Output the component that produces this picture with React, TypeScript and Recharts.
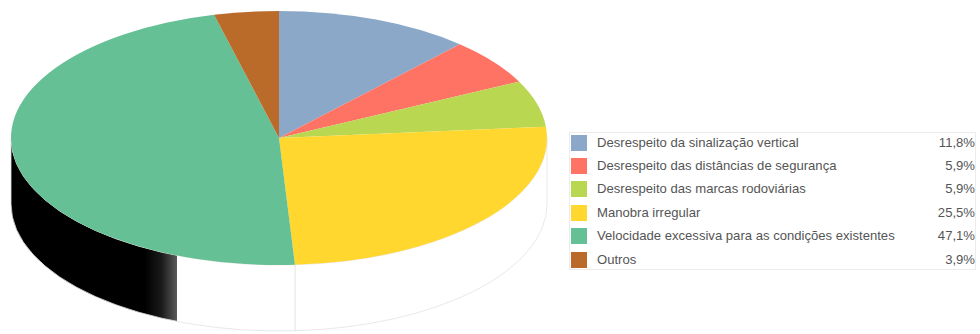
import React from "react";
import { PieChart, Pie } from "recharts";

const CAUSES = [
  "Desrespeito da sinalização vertical",
  "Desrespeito das distâncias de segurança",
  "Desrespeito das marcas rodoviárias",
  "Manobra irregular",
  "Velocidade excessiva para as condições existentes",
  "Outros",
];
const SHARES = [11.8, 5.9, 5.9, 25.5, 47.1, 3.9];
const COLORS = ["#8ba8c9", "#ff7365", "#bad751", "#ffd72e", "#65c096", "#ba6b2a"];
const WALL_COLORS = ["#ffffff", "#ffffff", "#ffffff", "#ffffff", "url(#wallShade)", "#ffffff"];

const chartData = CAUSES.map((name, i) => ({ name, value: SHARES[i], fill: COLORS[i], wall: WALL_COLORS[i] }));

// vertical squash and extrusion of the disc
const TILT = 127 / 268;
const DEPTH = 66;

const rad = (deg: number) => (deg * Math.PI) / 180;

// Sector drawn on an ellipse, with its side wall where it faces the viewer.
function TiltedSector(props: any) {
  const { cx, cy, outerRadius: rx, startAngle, endAngle, fill, wall } = props;
  const ry = rx * TILT;
  const pt = (a: number, dy = 0) => `${cx + rx * Math.cos(rad(a))} ${cy + dy - ry * Math.sin(rad(a))}`;
  const large = Math.abs(startAngle - endAngle) > 180 ? 1 : 0;
  const top = `M${cx} ${cy} L${pt(startAngle)} A${rx} ${ry} 0 ${large} 1 ${pt(endAngle)} Z`;

  // angles run clockwise and downwards from 90; the front of the disc is -180..0
  const from = Math.min(startAngle, 0);
  const to = Math.max(endAngle, -180);
  const hasWall = from > to;
  const side = hasWall
    ? `M${pt(from)} A${rx} ${ry} 0 0 1 ${pt(to)} L${pt(to, DEPTH)} A${rx} ${ry} 0 0 0 ${pt(from, DEPTH)} Z`
    : "";

  return (
    <g>
      {hasWall && <path d={side} fill={wall} stroke="#e2e2e2" strokeWidth={0.8} />}
      <path d={top} fill={fill} stroke="none" />
    </g>
  );
}

const LABEL_FONT = '"Liberation Sans", Arial, sans-serif';

function LegendTable() {
  return (
    <div
      style={{
        position: "absolute",
        left: 569,
        top: 132,
        width: 407,
        height: 138,
        boxSizing: "border-box",
        border: "1px solid #ececec",
        fontFamily: LABEL_FONT,
        fontSize: 13.1,
        color: "#555",
      }}
    >
      {CAUSES.map((name, i) => (
        <div key={name} style={{ position: "absolute", left: 0, top: 1.5 + i * 23.4, width: 405, height: 16 }}>
          <div style={{ position: "absolute", left: 0.5, top: 0, width: 16, height: 16, background: COLORS[i] }} />
          <div style={{ position: "absolute", left: 27, top: 0, lineHeight: "16px", whiteSpace: "nowrap" }}>{name}</div>
          <div style={{ position: "absolute", right: 0, top: 0, lineHeight: "16px" }}>
            {SHARES[i].toFixed(1).replace(".", ",")}%
          </div>
        </div>
      ))}
    </div>
  );
}

export default function App() {
  return (
    <div style={{ position: "absolute", left: 0, top: 0, width: 980, height: 334, background: "#fff", overflow: "hidden" }}>
      <PieChart width={560} height={334} margin={{ top: 0, right: 0, bottom: 0, left: 0 }}>
        <defs>
          <linearGradient id="wallShade" gradientUnits="userSpaceOnUse" x1="11" y1="0" x2="295" y2="0">
            <stop offset="0.47" stopColor="#000000" />
            <stop offset="0.53" stopColor="#1a1a1a" />
            <stop offset="0.584" stopColor="#5a5a5a" />
            <stop offset="0.585" stopColor="#ffffff" />
            <stop offset="1" stopColor="#ffffff" />
          </linearGradient>
        </defs>
        <Pie
          data={chartData}
          dataKey="value"
          nameKey="name"
          cx={279}
          cy={138}
          outerRadius={268}
          startAngle={90}
          endAngle={-270}
          paddingAngle={0}
          stroke="none"
          isAnimationActive={false}
          shape={TiltedSector}
        />
      </PieChart>
      <LegendTable />
    </div>
  );
}
